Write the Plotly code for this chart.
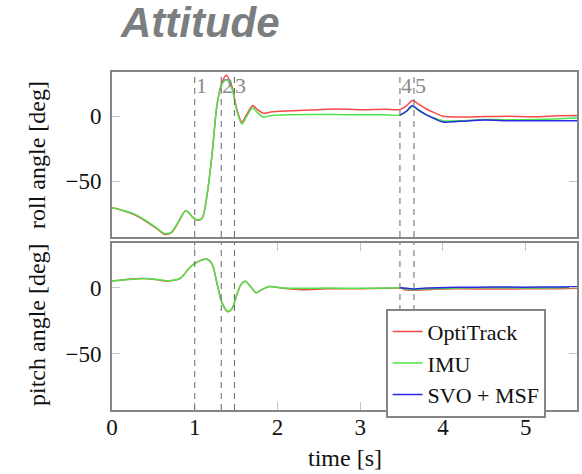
import plotly.graph_objects as go

# ---------------- data ----------------
t_roll = [0, 0.1, 0.26, 0.4, 0.55, 0.64, 0.72, 0.8, 0.885, 0.925, 0.97, 1.03, 1.09, 1.15, 1.21,
          1.27, 1.33, 1.38, 1.45, 1.51, 1.57, 1.63, 1.70, 1.75, 1.83, 1.92, 2.1, 2.4, 2.7, 3.0,
          3.3, 3.48, 3.56, 3.63, 3.7, 3.8, 3.9, 4.0, 4.2, 4.5, 4.8, 5.1, 5.4, 5.62]
roll_opti = [-70.5, -72, -75.5, -80.5, -87, -91, -89.5, -82, -73, -74, -77.5, -80, -78.5, -60, -29,
             9, 26, 31.5, 23, 5, -4.5, 1.5, 8.2, 5.5, 2.2, 3.2, 4, 4.8, 5.5, 5,
             5.3, 5.2, 8, 12, 9.5, 5.5, 2.5, 0, -0.7, -0.3, 0, -0.5, 0.3, 0.5]
roll_imu = [-70.5, -72, -75, -80, -86.5, -90.5, -89, -81.5, -73, -73.8, -77.5, -79.7, -78.5, -60, -29,
            9, 24.5, 28, 21, 3.5, -6, 0, 6.4, 3.3, -0.8, 0.5, 1, 1.2, 1.2, 1,
            1, 0.8, 3.5, 7.5, 4.5, 1, -1.5, -3.5, -3.5, -2.5, -2.8, -2.5, -2, -1.5]
t_svo = [3.48, 3.56, 3.63, 3.7, 3.8, 3.9, 4.0, 4.2, 4.5, 4.8, 5.1, 5.4, 5.62]
roll_svo = [0.8, 4, 8.2, 5, 1, -2, -4.5, -4, -3, -3.5, -3.5, -3.5, -3.5]

t_pitch = [0, 0.2, 0.38, 0.55, 0.66, 0.75, 0.82, 0.87, 0.925, 0.98, 1.03, 1.1, 1.15, 1.21, 1.27,
           1.33, 1.40, 1.45, 1.51, 1.56, 1.61, 1.67, 1.74, 1.81, 1.89, 2.08, 2.3, 2.6, 3.0, 3.3,
           3.48, 3.56, 3.65, 3.8, 4.2, 4.6, 5.0, 5.4, 5.62]
pitch_imu = [5.2, 6.3, 7, 6.3, 5.3, 5.6, 7, 10, 14.3, 17.5, 19.5, 21.5, 21.6, 18, 3,
             -11.5, -18, -16, -5, 2.5, 5, 1.3, -3.8, -1.5, 0.8, -0.3, -0.5, -0.3, -0.5, -0.3,
             0, -1, -1.5, -0.8, -0.3, 0, -0.2, 0, 0.2]
pitch_opti = [5.0, 6.5, 7, 6.0, 5.0, 5.6, 7, 10, 14.3, 17.5, 19.5, 21.5, 21.6, 18, 3,
              -11.5, -18.3, -16, -5, 2.5, 5, 1.3, -3.8, -1.5, 0.8, -0.5, -1.5, -0.8, -0.7, -0.5,
              -0.3, -1.8, -2, -1.5, -0.8, -1, -0.8, -0.7, -0.5]
pitch_svo = [0, -0.5, -1, -0.3, 0.3, 0.5, 0.4, 0.6, 0.8]
t_svo_pitch = [3.48, 3.56, 3.65, 3.8, 4.2, 4.6, 5.0, 5.4, 5.62]

events = [1.0, 1.32, 1.48, 3.48, 3.65]
event_labels = ["1", "2", "3", "4", "5"]
x_ticks = [0, 1, 2, 3, 4, 5]
y_ticks = [0, -50]

series_names = ["OptiTrack", "IMU", "SVO + MSF"]
colors = ["rgb(245,75,75)", "rgb(75,228,75)", "rgb(40,40,225)"]

SERIF = "Liberation Serif"
W, H = 582, 474

fig = go.Figure()

def add(x, y, i, xa, ya, show):
    fig.add_trace(go.Scatter(x=x, y=y, mode="lines", name=series_names[i],
                             line=dict(color=colors[i], width=1.5, shape="spline", smoothing=0.8),
                             xaxis=xa, yaxis=ya, showlegend=show))

# top panel (roll)
add(t_roll, roll_opti, 0, "x2", "y2", False)
add(t_roll, roll_imu, 1, "x2", "y2", False)
add(t_svo, roll_svo, 2, "x2", "y2", False)
# bottom panel (pitch)
add(t_pitch, pitch_opti, 0, "x", "y", True)
add(t_pitch, pitch_imu, 1, "x", "y", True)
add(t_svo_pitch, pitch_svo, 2, "x", "y", True)

FRAME = "#858585"
TICKC = "#c4c4c4"
xr = [0, 5.62]
yr = [-93, 34]

common_y = dict(range=yr, tickvals=y_ticks, ticks="inside", ticklen=8, tickcolor=TICKC,
                tickwidth=1, showline=True, linecolor=FRAME, linewidth=1.6, mirror="allticks",
                showgrid=False, zeroline=False, ticklabelstandoff=4, automargin=False,
                tickfont=dict(family=SERIF, size=23, color="#111"))

fig.update_layout(
    width=W, height=H, margin=dict(l=0, r=0, t=0, b=0, autoexpand=False),
    paper_bgcolor="white", plot_bgcolor="white",
    xaxis=dict(domain=[112 / W, 577 / W], range=xr, tickvals=x_ticks, ticks="inside", ticklen=8,
               tickcolor=TICKC, showline=True, linecolor=FRAME, linewidth=1.6, mirror="allticks",
               showgrid=False, zeroline=False, ticklabelstandoff=-4, automargin=False,
               tickfont=dict(family=SERIF, size=23, color="#111"), anchor="y"),
    yaxis=dict(domain=[1 - 410 / H, 1 - 243 / H], anchor="x", **common_y),
    xaxis2=dict(domain=[112 / W, 577 / W], range=xr, showticklabels=False, ticks="",
                showline=True, linecolor=FRAME, linewidth=1.6, mirror=True, automargin=False,
                showgrid=False, zeroline=False, anchor="y2"),
    yaxis2=dict(domain=[1 - 237 / H, 1 - 72 / H], anchor="x2", **common_y),
    legend=dict(x=546 / W, y=1 - 309 / H, xanchor="right", yanchor="top",
                xref="container", yref="container",
                bgcolor="white", bordercolor=FRAME, borderwidth=1.6,
                font=dict(family=SERIF, size=22, color="#111"), tracegroupgap=0),
    showlegend=True,
)

shapes = []
for ev in events:
    for xa, ya in (("x", "y"), ("x2", "y2")):
        shapes.append(dict(type="line", xref=xa, yref=ya + " domain", x0=ev, x1=ev, y0=0, y1=1,
                           line=dict(color="#666", width=1, dash="6px,5px"), layer="above"))
fig.update_layout(shapes=shapes)

ann = []
for ev, lab in zip(events, event_labels):
    ann.append(dict(x=ev, xref="x2", y=0.92, yref="y2 domain", text=lab, showarrow=False,
                    xanchor="left", yanchor="middle", xshift=-1,
                    font=dict(family=SERIF, size=22, color="#8a8a8a")))
ann.append(dict(x=200 / W, y=1 - 23 / H, xref="paper", yref="paper", text="<b><i>Attitude</i></b>",
                showarrow=False, xanchor="center", yanchor="middle",
                font=dict(family="Liberation Sans", size=42, color="#7b7e80")))
ann.append(dict(x=37 / W, y=1 - 155 / H, xref="paper", yref="paper", text="roll angle [deg]",
                showarrow=False, textangle=-90, xanchor="center", yanchor="middle",
                font=dict(family=SERIF, size=24, color="#111")))
ann.append(dict(x=37 / W, y=1 - 325 / H, xref="paper", yref="paper", text="pitch angle [deg]",
                showarrow=False, textangle=-90, xanchor="center", yanchor="middle",
                font=dict(family=SERIF, size=24, color="#111")))
ann.append(dict(x=344.5 / W, y=1 - 458 / H, xref="paper", yref="paper", text="time [s]",
                showarrow=False, xanchor="center", yanchor="middle",
                font=dict(family=SERIF, size=24, color="#111")))
fig.update_layout(annotations=ann)

fig.write_html("out.html")
